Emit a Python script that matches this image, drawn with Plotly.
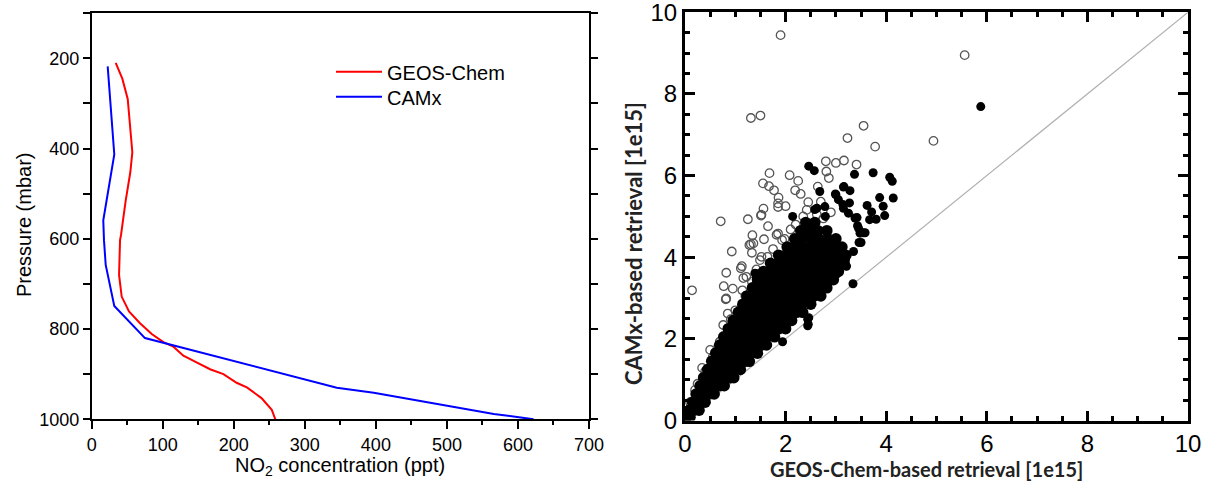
import plotly.graph_objects as go

# ---------------- Left panel: vertical NO2 profiles ----------------
gc_conc = [33.8, 43.1, 50.7, 57.2, 54.4, 47.9, 41.3, 39.9, 38.5, 42.2, 52.5, 68.0, 84.5,
           100.9, 115.0, 129.0, 145.5, 166.6, 185.4, 204.0, 219.0, 239.0, 253.5, 258.5]
gc_pres = [210, 245, 290, 408, 452, 515, 591, 603, 680, 728, 761, 787, 811,
           829, 839, 859, 872, 889, 900, 919, 930, 953, 979, 1000]

camx_conc = [22.5, 31.8, 16.3, 17.3, 19.7, 31.8, 75.0, 345.0, 397.0, 453.0, 509.0, 566.0, 622.0]
camx_pres = [218, 413, 559, 603, 658, 749, 820, 930, 941, 957, 973, 988, 1000]

pres_tickvals = [200, 400, 600, 800, 1000]
conc_tickvals = [0, 100, 200, 300, 400, 500, 600, 700]

# ---------------- Right panel: retrieval comparison ----------------
# dense core of filled points: (CAMx value, list of GEOS-Chem values) rows
core_rows = [
    (0.08, [0.03, 0.10]),
    (0.25, [0.08, 0.18, 0.28]),
    (0.45, [0.15, 0.27, 0.40]),
    (0.65, [0.22, 0.34, 0.46, 0.58]),
    (0.85, [0.30, 0.42, 0.55, 0.68, 0.78]),
    (1.05, [0.37, 0.50, 0.63, 0.76, 0.90, 0.97]),
    (1.25, [0.45, 0.58, 0.71, 0.84, 0.98, 1.10]),
    (1.45, [0.53, 0.66, 0.79, 0.92, 1.06, 1.19, 1.28]),
    (1.65, [0.61, 0.74, 0.88, 1.01, 1.15, 1.29, 1.44]),
    (1.85, [0.69, 0.82, 0.96, 1.10, 1.24, 1.38, 1.52, 1.62]),
    (2.05, [0.77, 0.90, 1.04, 1.18, 1.33, 1.47, 1.62, 1.78]),
    (2.25, [0.86, 0.99, 1.13, 1.27, 1.42, 1.57, 1.72, 1.87, 2.00]),
    (2.45, [0.96, 1.09, 1.23, 1.37, 1.52, 1.67, 1.82, 1.97, 2.12]),
    (2.65, [1.06, 1.19, 1.33, 1.47, 1.62, 1.77, 1.92, 2.07, 2.22, 2.34]),
    (2.85, [1.15, 1.28, 1.42, 1.57, 1.72, 1.87, 2.02, 2.17, 2.32, 2.50]),
    (3.05, [1.23, 1.37, 1.52, 1.67, 1.82, 1.97, 2.12, 2.27, 2.42, 2.57, 2.70]),
    (3.25, [1.34, 1.48, 1.63, 1.78, 1.93, 2.08, 2.23, 2.38, 2.53, 2.68, 2.82]),
    (3.45, [1.44, 1.58, 1.73, 1.88, 2.03, 2.18, 2.33, 2.48, 2.63, 2.78, 2.95]),
    (3.65, [1.56, 1.70, 1.85, 2.00, 2.15, 2.30, 2.45, 2.60, 2.75, 2.90, 3.05]),
    (3.85, [1.70, 1.84, 1.99, 2.14, 2.29, 2.44, 2.59, 2.74, 2.89, 3.04, 3.16]),
    (4.05, [1.86, 2.00, 2.15, 2.30, 2.45, 2.60, 2.75, 2.90, 3.05, 3.20]),
    (4.25, [2.03, 2.18, 2.33, 2.48, 2.63, 2.80, 2.96, 3.12]),
    (4.45, [2.18, 2.33, 2.50, 2.66, 2.84, 3.00]),
    (4.65, [2.30, 2.46, 2.64, 2.82]),
    (4.85, [2.40, 2.58]),
]

filled_extra_x = [5.88, 2.46, 2.57, 3.37, 3.74, 4.07, 4.12, 4.14, 3.16, 2.99, 3.05, 3.14, 3.27, 3.87,
                  3.62, 3.94, 3.97, 3.71, 3.80, 3.67, 3.42, 2.58, 2.79, 2.14, 3.54, 3.43, 3.46, 3.21,
                  3.34, 3.01, 2.45, 2.46, 1.94, 1.41, 3.28, 3.15, 3.00, 3.15, 3.25, 3.38, 3.45, 3.58,
                  3.50, 3.35, 3.20, 2.98, 2.78, 2.62, 2.68, 3.48, 3.19, 1.39, 2.44, 2.44]
filled_extra_y = [7.69, 6.23, 6.12, 6.03, 6.07, 5.96, 5.86, 5.45, 5.73, 5.55, 5.41, 5.29, 5.33, 5.46,
                  5.27, 5.25, 5.02, 5.11, 4.93, 4.92, 4.97, 5.17, 5.00, 5.00, 4.60, 4.77, 4.36, 3.78,
                  3.35, 3.58, 2.36, 2.52, 1.93, 3.60, 5.63, 5.72, 5.53, 5.20, 5.08, 4.96, 4.71, 4.60,
                  4.36, 4.14, 3.79, 3.61, 5.24, 5.20, 5.61, 4.59, 3.93, 3.61, 2.32, 2.48]

open_x = [1.90, 5.56, 1.31, 1.50, 3.55, 3.23, 3.78, 4.94, 2.80, 3.00, 3.16, 3.41, 2.81, 1.68,
          2.08, 2.25, 2.86, 1.55, 1.67, 1.77, 2.64, 2.19, 2.30, 2.45, 2.70, 1.56, 1.51, 1.86,
          1.85, 2.00, 0.71, 1.25, 1.65, 1.34, 1.57, 1.85, 1.93, 2.10, 1.31, 1.33, 0.93, 1.13,
          0.82, 1.52, 1.64, 1.22, 1.33, 1.14, 0.14, 0.95, 0.77, 0.82, 0.85, 0.91, 0.69, 0.34,
          0.20, 0.50, 1.52, 1.82, 1.85, 2.42, 0.76, 0.66, 1.13, 1.16, 1.49, 1.36, 1.28, 1.11,
          0.81, 2.62, 2.75, 2.90, 2.55, 0.10, 0.25, 0.40, 0.55, 0.62, 1.00, 1.20, 1.42, 1.75,
          1.98, 2.20, 2.35]
open_y = [9.44, 8.95, 7.41, 7.47, 7.22, 6.92, 6.71, 6.85, 6.35, 6.31, 6.37, 6.27, 6.10, 6.06,
          6.01, 5.87, 5.94, 5.81, 5.74, 5.64, 5.73, 5.64, 5.55, 5.35, 5.36, 5.19, 5.02, 5.46,
          5.23, 5.25, 4.88, 4.93, 4.76, 4.54, 4.44, 4.58, 4.42, 4.68, 4.32, 4.11, 4.14, 3.78,
          3.62, 4.01, 4.01, 3.52, 3.40, 3.19, 3.19, 3.23, 3.29, 2.99, 2.62, 2.48, 1.93, 1.29,
          0.75, 1.73, 5.04, 4.55, 5.32, 5.16, 2.34, 1.81, 2.79, 3.49, 3.93, 4.34, 4.30, 3.73,
          2.97, 5.05, 4.95, 5.10, 4.75, 0.45, 0.90, 1.20, 1.55, 1.70, 2.70, 3.05, 3.70, 4.20,
          4.45, 4.80, 5.00]

one_to_one = [0, 10]
ret_tickvals = [0, 2, 4, 6, 8, 10]

core_x = [x for yv, xs in core_rows for x in xs]
core_y = [yv for yv, xs in core_rows for x in xs]

# the page's default body margin is removed (post_script), so figure pixels = window pixels
W, H = 1207, 491


def fx(px):
    return px / W


def fy(py):
    return 1 - py / H


FONT = "Liberation Sans, Arial, sans-serif"
fig = go.Figure()

fig.add_trace(go.Scatter(x=gc_conc, y=gc_pres, mode="lines", name="GEOS-Chem", legend="legend",
                         line=dict(color="#ff0000", width=2), xaxis="x", yaxis="y"))
fig.add_trace(go.Scatter(x=camx_conc, y=camx_pres, mode="lines", name="CAMx", legend="legend2",
                         line=dict(color="#0000ff", width=2), xaxis="x", yaxis="y"))

fig.add_trace(go.Scatter(x=one_to_one, y=one_to_one, mode="lines", showlegend=False,
                         line=dict(color="#b0b0b0", width=1.2), xaxis="x2", yaxis="y2"))
fig.add_trace(go.Scatter(x=open_x, y=open_y, mode="markers", showlegend=False,
                         marker=dict(symbol="circle-open", size=8.5, color="#555555",
                                     line=dict(width=1.3, color="#555555")),
                         xaxis="x2", yaxis="y2"))
fig.add_trace(go.Scatter(x=core_x, y=core_y, mode="markers", showlegend=False,
                         marker=dict(symbol="circle", size=11.5, color="#000000"),
                         xaxis="x2", yaxis="y2"))
fig.add_trace(go.Scatter(x=filled_extra_x, y=filled_extra_y, mode="markers", showlegend=False,
                         marker=dict(symbol="circle", size=9, color="#000000"),
                         xaxis="x2", yaxis="y2"))

leg_common = dict(xanchor="left", yanchor="top", bgcolor="rgba(0,0,0,0)",
                  font=dict(size=20, family=FONT), itemwidth=46, borderwidth=0)

fig.update_layout(
    width=W, height=H,
    margin=dict(l=0, r=0, t=0, b=0, autoexpand=False),
    paper_bgcolor="white", plot_bgcolor="white",
    font=dict(family=FONT, color="black"),
    showlegend=True,
    legend=dict(x=fx(331), y=fy(52.2), **leg_common),
    legend2=dict(x=fx(331), y=fy(77.2), **leg_common),
    xaxis=dict(domain=[fx(91.7), fx(589)], range=[0, 700], tickvals=conc_tickvals,
               showline=True, linecolor="black", linewidth=1.5, mirror=True,
               ticks="outside", ticklen=8, tickwidth=1.5, tickcolor="black",
               minor=dict(dtick=50, ticks="outside", ticklen=4, tickwidth=1.5, tickcolor="black"),
               showgrid=False, zeroline=False, tickfont=dict(size=18, family=FONT),
               automargin=False, ticklabeloverflow="allow", anchor="y"),
    yaxis=dict(domain=[fy(419.3), fy(13.2)], range=[1000, 100], tickvals=pres_tickvals,
               showline=True, linecolor="black", linewidth=1.5, mirror="ticks",
               ticks="outside", ticklen=7, tickwidth=1.5, tickcolor="black",
               minor=dict(dtick=100, ticks="outside", ticklen=7, tickwidth=1.5, tickcolor="black"),
               showgrid=False, zeroline=False, tickfont=dict(size=18, family=FONT),
               automargin=False, ticklabeloverflow="allow", anchor="x"),
    xaxis2=dict(domain=[fx(685), fx(1188)], range=[0, 10], tickvals=ret_tickvals,
                showline=True, linecolor="black", linewidth=3, mirror="allticks",
                ticks="inside", ticklen=10, tickwidth=2.5, tickcolor="black",
                minor=dict(dtick=0.5, ticks="inside", ticklen=5, tickwidth=2.5, tickcolor="black"),
                showgrid=False, zeroline=False, tickfont=dict(size=24, family=FONT),
                automargin=False, ticklabeloverflow="allow", anchor="y2"),
    yaxis2=dict(domain=[fy(420.5), fy(12.3)], range=[0, 10], tickvals=ret_tickvals,
                showline=True, linecolor="black", linewidth=3, mirror="allticks",
                ticks="inside", ticklen=10, tickwidth=2.5, tickcolor="black",
                minor=dict(dtick=0.5, ticks="inside", ticklen=5, tickwidth=2.5, tickcolor="black"),
                showgrid=False, zeroline=False, tickfont=dict(size=24, family=FONT),
                automargin=False, ticklabeloverflow="allow", anchor="x2"),
    annotations=[
        dict(text="NO<sub>2</sub> concentration (ppt)", x=fx(340), y=fy(466),
             xref="paper", yref="paper", showarrow=False, xanchor="center", yanchor="middle",
             font=dict(size=20, family=FONT)),
        dict(text="Pressure (mbar)", x=fx(24), y=fy(225), textangle=-90,
             xref="paper", yref="paper", showarrow=False, xanchor="center", yanchor="middle",
             font=dict(size=20, family=FONT)),
        dict(text="<b>GEOS-Chem-based retrieval [1e15]</b>", x=fx(926), y=fy(469),
             xref="paper", yref="paper", showarrow=False, xanchor="center", yanchor="middle",
             font=dict(size=20, family="Lato, sans-serif", color="#222")),
        dict(text="<b>CAMx-based retrieval [1e15]</b>", x=fx(633), y=fy(244),
             textangle=-90, xref="paper", yref="paper", showarrow=False,
             xanchor="center", yanchor="middle",
             font=dict(size=22, family="Lato, sans-serif", color="#222")),
    ],
)

fig.write_html("out.html", config={"displayModeBar": False},
               post_script="document.body.style.margin='0';document.body.style.overflow='hidden';")
